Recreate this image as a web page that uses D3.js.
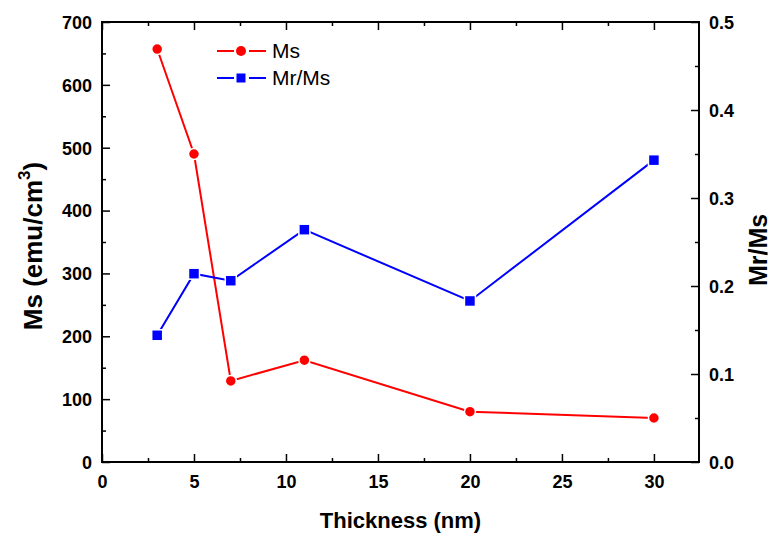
<!DOCTYPE html>
<html>
<head>
<meta charset="utf-8">
<script src="https://cdn.jsdelivr.net/npm/d3@7"></script>
<style>
  html, body { margin: 0; padding: 0; background: #fff; }
  svg { display: block; font-family: "Liberation Sans", Arial, sans-serif; }
</style>
</head>
<body>
<svg id="chart" width="771" height="537"></svg>
<script>
// Film thickness (nm)
const thickness = [3, 5, 7, 11, 20, 30];
// Saturation magnetization (emu/cm^3)
const msValues = [657, 490, 129, 162, 80, 70];
// Squareness ratio Mr/Ms
const ratioValues = [0.144, 0.214, 0.206, 0.264, 0.183, 0.343];

const xTicks = [0, 5, 10, 15, 20, 25, 30];
const msTicks = [0, 100, 200, 300, 400, 500, 600, 700];
const ratioTicks = [0.0, 0.1, 0.2, 0.3, 0.4, 0.5];

const svg = d3.select("#chart");
const plotLeft = 102, plotRight = 699, plotTop = 22, plotBottom = 462;

const x = d3.scaleLinear().domain([0, 32.45]).range([plotLeft, plotRight]);
const yMs = d3.scaleLinear().domain([0, 700]).range([plotBottom, plotTop]);
const yR = d3.scaleLinear().domain([0, 0.5]).range([plotBottom, plotTop]);

const axisColor = "#000";
const tickFont = "bold 18px 'Liberation Sans', Arial, sans-serif";
const family = "'Liberation Sans', Arial, sans-serif";

// Minor and major ticks, both pointing into the plot
function drawAxis(makeAxis, transform, tickVals, minorVals, majorLen, minorLen, withLabels, labelFmt) {
  const gMinor = svg.append("g").attr("transform", transform)
    .call(makeAxis().tickValues(minorVals).tickSize(minorLen).tickFormat(""));
  gMinor.select(".domain").remove();
  gMinor.selectAll("line").attr("stroke", axisColor).attr("stroke-width", 1.5);
  const g = svg.append("g").attr("transform", transform)
    .call(makeAxis().tickValues(tickVals).tickSize(majorLen).tickSizeOuter(0)
      .tickFormat(withLabels ? labelFmt : ""));
  g.select(".domain").remove();
  g.selectAll("line").attr("stroke", axisColor).attr("stroke-width", 1.5);
  g.selectAll("text").style("font", tickFont).attr("fill", "#000");
  return g;
}

const xMinor = d3.range(2.5, 32.5, 5);
const msMinor = d3.range(50, 700, 100);
const rMinor = [0.05, 0.15, 0.25, 0.35, 0.45];

// bottom axis
const gb = drawAxis(() => d3.axisTop(x), `translate(0,${plotBottom})`, xTicks, xMinor, 8, 4, true, d3.format("d"));
gb.selectAll("text").attr("y", 26).attr("dy", "0");
// top axis
drawAxis(() => d3.axisBottom(x), `translate(0,${plotTop})`, xTicks, xMinor, 8, 4, false);
// left axis
const gl = drawAxis(() => d3.axisRight(yMs), `translate(${plotLeft},0)`, msTicks, msMinor, 8, 4, true, d3.format("d"));
gl.selectAll("text").attr("text-anchor", "end").attr("x", -10).attr("dy", "0.35em");
// right axis
const gr = drawAxis(() => d3.axisLeft(yR), `translate(${plotRight},0)`, ratioTicks, rMinor, 8, 4, true, d3.format(".1f"));
gr.selectAll("text").attr("text-anchor", "start").attr("x", 10).attr("dy", "0.35em");

// frame
svg.append("rect")
  .attr("x", plotLeft).attr("y", plotTop)
  .attr("width", plotRight - plotLeft).attr("height", plotBottom - plotTop)
  .attr("fill", "none").attr("stroke", axisColor).attr("stroke-width", 2);

// axis titles
svg.append("text")
  .attr("x", (plotLeft + plotRight) / 2).attr("y", 528)
  .attr("text-anchor", "middle")
  .style("font", `bold 22px ${family}`)
  .text("Thickness (nm)");

const yt = svg.append("text")
  .attr("transform", `translate(42,246) rotate(-90)`)
  .attr("text-anchor", "middle")
  .style("font", `bold 26px ${family}`);
yt.append("tspan").text("Ms (emu/cm");
yt.append("tspan").attr("dy", -12).style("font-size", "17px").text("3");
yt.append("tspan").attr("dy", 12).text(")");

svg.append("text")
  .attr("transform", `translate(767,250) rotate(-90)`)
  .attr("text-anchor", "middle")
  .style("font", `bold 25px ${family}`)
  .text("Mr/Ms");

// series
const msData = thickness.map((t, i) => ({ t, v: msValues[i] }));
const rData = thickness.map((t, i) => ({ t, v: ratioValues[i] }));

svg.append("path").datum(msData)
  .attr("fill", "none").attr("stroke", "#ff0000").attr("stroke-width", 2)
  .attr("d", d3.line().x(d => x(d.t)).y(d => yMs(d.v)));
svg.append("path").datum(rData)
  .attr("fill", "none").attr("stroke", "#0000ff").attr("stroke-width", 2)
  .attr("d", d3.line().x(d => x(d.t)).y(d => yR(d.v)));

svg.selectAll("circle.ms").data(msData).enter().append("circle")
  .attr("class", "ms")
  .attr("cx", d => x(d.t)).attr("cy", d => yMs(d.v)).attr("r", 5.5)
  .attr("fill", "#ff0000").attr("stroke", "#fff").attr("stroke-width", 1.5);

svg.selectAll("rect.ratio").data(rData).enter().append("rect")
  .attr("class", "ratio")
  .attr("x", d => x(d.t) - 5.5).attr("y", d => yR(d.v) - 5.5)
  .attr("width", 11).attr("height", 11)
  .attr("fill", "#0000ff").attr("stroke", "#fff").attr("stroke-width", 1.5);

// legend
const legend = [
  { label: "Ms", color: "#ff0000", shape: "circle", y: 51 },
  { label: "Mr/Ms", color: "#0000ff", shape: "square", y: 78 }
];
legend.forEach(l => {
  svg.append("line").attr("x1", 217).attr("x2", 234).attr("y1", l.y).attr("y2", l.y)
    .attr("stroke", l.color).attr("stroke-width", 2);
  svg.append("line").attr("x1", 249).attr("x2", 266).attr("y1", l.y).attr("y2", l.y)
    .attr("stroke", l.color).attr("stroke-width", 2);
  if (l.shape === "circle") {
    svg.append("circle").attr("cx", 241).attr("cy", l.y).attr("r", 5).attr("fill", l.color);
  } else {
    svg.append("rect").attr("x", 236.5).attr("y", l.y - 4.5).attr("width", 9).attr("height", 9).attr("fill", l.color);
  }
  svg.append("text").attr("x", 272).attr("y", l.y).attr("dy", "0.35em")
    .style("font", `21px ${family}`)
    .text(l.label);
});
</script>
</body>
</html>
